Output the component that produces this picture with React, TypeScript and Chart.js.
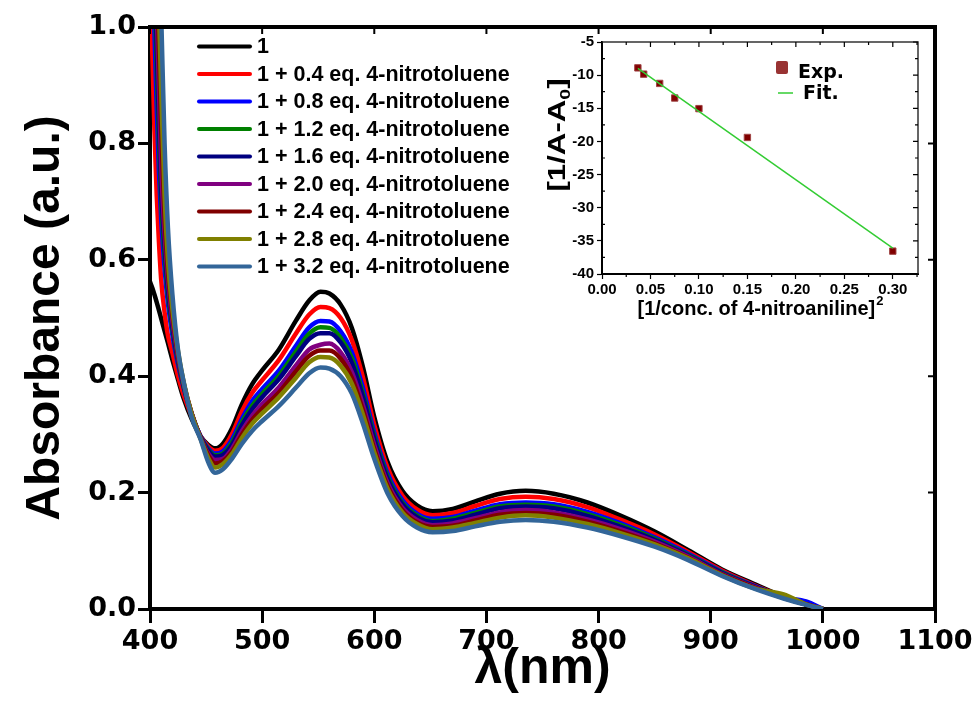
import React, { useEffect, useRef } from "react";
import { Chart, registerables } from "chart.js";

Chart.register(...registerables);

const FONT = '"Liberation Sans", Arial, sans-serif';
const WIDE = '"DejaVu Sans", Verdana, sans-serif';

// Wavelength grid (nm) shared by all absorption spectra
const wavelengths = [400, 402, 404, 406, 408, 410, 413, 416, 420, 425, 430, 437, 445, 452, 458, 465, 473, 482, 491, 500, 515, 530, 542, 552, 560, 570, 580, 590, 600, 612, 625, 638, 652, 670, 690, 712, 735, 760, 790, 820, 850, 880, 910, 940, 965, 985, 1000];

const abs0 = [0.562, 0.552, 0.54, 0.527, 0.513, 0.499, 0.478, 0.457, 0.428, 0.394, 0.362, 0.327, 0.297, 0.282, 0.276, 0.284, 0.31, 0.352, 0.386, 0.41, 0.446, 0.495, 0.53, 0.545, 0.542, 0.523, 0.483, 0.415, 0.33, 0.252, 0.203, 0.178, 0.168, 0.172, 0.185, 0.198, 0.203, 0.198, 0.183, 0.16, 0.133, 0.101, 0.068, 0.042, 0.021, 0.008, 0];
const abs04 = [1.1, 0.96, 0.82, 0.71, 0.63, 0.565, 0.51, 0.47, 0.44, 0.4, 0.368, 0.332, 0.297, 0.279, 0.272, 0.277, 0.3, 0.34, 0.371, 0.393, 0.428, 0.473, 0.506, 0.519, 0.517, 0.5, 0.462, 0.397, 0.316, 0.242, 0.195, 0.171, 0.161, 0.165, 0.177, 0.189, 0.193, 0.189, 0.175, 0.153, 0.128, 0.098, 0.066, 0.04, 0.021, 0.008, 0];
const abs08 = [1.27, 1.13, 0.99, 0.86, 0.75, 0.67, 0.585, 0.525, 0.47, 0.42, 0.38, 0.335, 0.297, 0.276, 0.267, 0.271, 0.291, 0.327, 0.357, 0.378, 0.41, 0.452, 0.484, 0.495, 0.494, 0.477, 0.441, 0.379, 0.303, 0.232, 0.187, 0.164, 0.155, 0.158, 0.169, 0.18, 0.183, 0.18, 0.167, 0.147, 0.123, 0.095, 0.064, 0.039, 0.02, 0.013, 0];
const abs12 = [1.35, 1.21, 1.07, 0.93, 0.8, 0.7, 0.61, 0.54, 0.48, 0.425, 0.382, 0.336, 0.296, 0.274, 0.264, 0.267, 0.286, 0.321, 0.349, 0.37, 0.401, 0.442, 0.473, 0.484, 0.483, 0.466, 0.431, 0.37, 0.297, 0.227, 0.183, 0.161, 0.151, 0.155, 0.165, 0.176, 0.179, 0.176, 0.163, 0.144, 0.121, 0.093, 0.063, 0.038, 0.02, 0.008, 0];
const abs16 = [1.4, 1.25, 1.11, 0.97, 0.83, 0.72, 0.625, 0.55, 0.485, 0.428, 0.384, 0.336, 0.296, 0.272, 0.262, 0.265, 0.282, 0.316, 0.343, 0.364, 0.395, 0.434, 0.464, 0.474, 0.474, 0.458, 0.423, 0.364, 0.292, 0.223, 0.18, 0.158, 0.149, 0.152, 0.162, 0.173, 0.176, 0.173, 0.16, 0.141, 0.119, 0.092, 0.062, 0.038, 0.02, 0.008, 0];
const abs20 = [1.46, 1.31, 1.17, 1.03, 0.89, 0.76, 0.645, 0.565, 0.495, 0.433, 0.386, 0.337, 0.295, 0.267, 0.256, 0.258, 0.275, 0.306, 0.332, 0.352, 0.381, 0.418, 0.446, 0.454, 0.456, 0.441, 0.407, 0.35, 0.282, 0.216, 0.174, 0.153, 0.144, 0.147, 0.156, 0.166, 0.17, 0.166, 0.154, 0.137, 0.116, 0.09, 0.06, 0.037, 0.019, 0.008, 0];
const abs24 = [1.53, 1.39, 1.24, 1.1, 0.96, 0.82, 0.675, 0.58, 0.505, 0.438, 0.388, 0.337, 0.294, 0.264, 0.25, 0.254, 0.27, 0.3, 0.325, 0.344, 0.372, 0.408, 0.435, 0.444, 0.444, 0.43, 0.397, 0.341, 0.275, 0.211, 0.17, 0.149, 0.141, 0.143, 0.152, 0.162, 0.165, 0.162, 0.15, 0.133, 0.113, 0.088, 0.059, 0.036, 0.019, 0.008, 0];
const abs28 = [1.6, 1.46, 1.31, 1.17, 1.03, 0.89, 0.71, 0.6, 0.515, 0.443, 0.39, 0.336, 0.293, 0.259, 0.243, 0.249, 0.266, 0.294, 0.318, 0.336, 0.364, 0.397, 0.424, 0.433, 0.432, 0.418, 0.387, 0.333, 0.269, 0.206, 0.166, 0.146, 0.137, 0.14, 0.148, 0.157, 0.161, 0.157, 0.146, 0.13, 0.111, 0.087, 0.058, 0.035, 0.025, 0.008, 0];
const abs32 = [1.73, 1.59, 1.45, 1.3, 1.16, 1.02, 0.8, 0.655, 0.54, 0.445, 0.39, 0.33, 0.292, 0.252, 0.234, 0.24, 0.258, 0.284, 0.306, 0.323, 0.349, 0.38, 0.405, 0.415, 0.413, 0.4, 0.37, 0.318, 0.258, 0.198, 0.16, 0.14, 0.132, 0.134, 0.142, 0.15, 0.153, 0.15, 0.14, 0.125, 0.107, 0.084, 0.057, 0.034, 0.018, 0.007, 0];

const spectra = [abs0, abs04, abs08, abs12, abs16, abs20, abs24, abs28, abs32];
const spectrumLabels = [
  "1",
  "1 + 0.4 eq. 4-nitrotoluene",
  "1 + 0.8 eq. 4-nitrotoluene",
  "1 + 1.2 eq. 4-nitrotoluene",
  "1 + 1.6 eq. 4-nitrotoluene",
  "1 + 2.0 eq. 4-nitrotoluene",
  "1 + 2.4 eq. 4-nitrotoluene",
  "1 + 2.8 eq. 4-nitrotoluene",
  "1 + 3.2 eq. 4-nitrotoluene",
];
const spectrumColors = ["#000000", "#ff0000", "#0000ff", "#008000", "#000080", "#800080", "#800000", "#808000", "#336699"];

// Benesi–Hildebrand style inset: experimental points and linear fit
const insetX = [0.037, 0.043, 0.0595, 0.075, 0.1, 0.15, 0.3];
const insetY = [-8.9, -9.85, -11.25, -13.45, -15.05, -19.4, -36.55];
const fitX = [0.037, 0.3];
const fitY = [-8.99, -36.1];

const mainDecor = {
  id: "mainDecor",
  afterDraw(chart: any) {
    const { ctx, chartArea: a, scales } = chart;
    ctx.save();
    ctx.strokeStyle = "#000";
    ctx.lineWidth = 4;
    ctx.beginPath();
    ctx.moveTo(a.left - 2, a.top);
    ctx.lineTo(a.right, a.top);
    ctx.lineTo(a.right, a.bottom + 2);
    ctx.stroke();
    ctx.lineWidth = 2;
    ctx.beginPath();
    scales.x.ticks.forEach((t: any) => {
      const px = scales.x.getPixelForValue(t.value);
      ctx.moveTo(px, a.top);
      ctx.lineTo(px, a.top + 7);
    });
    scales.y.ticks.forEach((t: any) => {
      const py = scales.y.getPixelForValue(t.value);
      ctx.moveTo(a.right, py);
      ctx.lineTo(a.right - 7, py);
    });
    ctx.stroke();

    // legend
    const x0 = a.left + 49;
    const y0 = a.top + 19.5;
    ctx.lineCap = "round";
    ctx.textBaseline = "middle";
    ctx.font = `bold 21.5px ${FONT}`;
    chart.data.datasets.forEach((ds: any, i: number) => {
      const y = y0 + i * 27.5;
      ctx.strokeStyle = ds.borderColor;
      ctx.lineWidth = 4;
      ctx.beginPath();
      ctx.moveTo(x0, y);
      ctx.lineTo(x0 + 51, y);
      ctx.stroke();
      ctx.fillStyle = "#000";
      ctx.fillText(ds.label, x0 + 58, y + 1);
    });
    ctx.restore();
  },
};

const insetDecor = {
  id: "insetDecor",
  afterDraw(chart: any) {
    const { ctx, chartArea: a, scales } = chart;
    const xs = scales.x;
    const ys = scales.y;
    ctx.save();
    ctx.strokeStyle = "#333";
    ctx.lineWidth = 1.5;
    ctx.beginPath();
    ctx.moveTo(a.left, a.top);
    ctx.lineTo(a.right, a.top);
    ctx.lineTo(a.right, a.bottom);
    ctx.stroke();

    ctx.strokeStyle = "#000";
    ctx.lineWidth = 1.2;
    ctx.beginPath();
    for (let v = 0; v <= 0.3251; v += 0.025) {
      const px = xs.getPixelForValue(v);
      const major = Math.abs(v / 0.05 - Math.round(v / 0.05)) < 1e-6;
      const len = major ? 5 : 3;
      ctx.moveTo(px, a.top);
      ctx.lineTo(px, a.top + len);
      if (!major) {
        ctx.moveTo(px, a.bottom);
        ctx.lineTo(px, a.bottom + 3);
      }
    }
    for (let v = -40; v <= -5; v += 2.5) {
      const py = ys.getPixelForValue(v);
      const major = v % 5 === 0;
      const len = major ? 5 : 3;
      ctx.moveTo(a.right, py);
      ctx.lineTo(a.right - len, py);
      if (!major) {
        ctx.moveTo(a.left, py);
        ctx.lineTo(a.left + 3, py);
      }
    }
    ctx.stroke();

    // axis titles
    ctx.fillStyle = "#000";
    ctx.textBaseline = "alphabetic";
    const big = `bold 20px ${FONT}`;
    const small = `bold 13px ${FONT}`;
    // x title with superscript
    ctx.font = big;
    const xt = "[1/conc. of 4-nitroaniline]";
    const w1 = ctx.measureText(xt).width;
    ctx.font = small;
    const w2 = ctx.measureText("2").width;
    const cx = (a.left + a.right) / 2;
    const sx = cx - (w1 + w2) / 2;
    ctx.font = big;
    ctx.fillText(xt, sx, a.bottom + 41);
    ctx.font = small;
    ctx.fillText("2", sx + w1 + 1, a.bottom + 31);

    // y title with subscript, rotated and stretched along its length
    ctx.save();
    ctx.translate(a.left - 45, a.top + 93);
    ctx.rotate(-Math.PI / 2);
    ctx.scale(1.3, 1);
    const yBig = `bold 24px ${FONT}`;
    const ySmall = `bold 15px ${FONT}`;
    ctx.font = yBig;
    const ya = "[1/A-A";
    const wa = ctx.measureText(ya).width;
    const wb = ctx.measureText("]").width;
    ctx.font = ySmall;
    const wz = ctx.measureText("0").width;
    const start = -(wa + wz + wb) / 2;
    ctx.font = yBig;
    ctx.fillText(ya, start, 8);
    ctx.font = ySmall;
    ctx.fillText("0", start + wa, 13);
    ctx.font = yBig;
    ctx.fillText("]", start + wa + wz, 8);
    ctx.restore();

    // legend
    const lx = a.left + 180;
    const ly = a.top + 25;
    ctx.fillStyle = "#993333";
    ctx.beginPath();
    ctx.roundRect(lx - 6, ly - 6, 12, 13, 2);
    ctx.fill();
    ctx.fillStyle = "#000";
    ctx.textBaseline = "middle";
    ctx.font = `bold 19px ${WIDE}`;
    ctx.fillText("Exp.", lx + 16, ly + 6);
    ctx.strokeStyle = "#33cc33";
    ctx.lineWidth = 1.5;
    ctx.beginPath();
    ctx.moveTo(lx - 4, ly + 26);
    ctx.lineTo(lx + 11, ly + 26);
    ctx.stroke();
    ctx.fillText("Fit.", lx + 21, ly + 27);
    ctx.restore();
  },
};

export default function App() {
  const mainRef = useRef<HTMLCanvasElement>(null);
  const insetRef = useRef<HTMLCanvasElement>(null);

  useEffect(() => {
    const datasets = spectra.map((vals, i) => ({
      label: spectrumLabels[i],
      data: wavelengths.map((w, j) => ({ x: w, y: vals[j] })),
      borderColor: spectrumColors[i],
      backgroundColor: spectrumColors[i],
      borderWidth: 4.5,
      pointRadius: 0,
      fill: false,
      cubicInterpolationMode: "monotone" as const,
      order: spectra.length - i,
    }));

    const main = new Chart(mainRef.current!, {
      type: "line",
      data: { datasets },
      options: {
        animation: false,
        responsive: false,
        events: [],
        layout: { padding: { top: 27, right: 44, left: 0, bottom: 0 } },
        plugins: { legend: { display: false }, tooltip: { enabled: false } },
        scales: {
          x: {
            type: "linear",
            min: 400,
            max: 1100,
            afterFit: (s: any) => {
              s.height = 95;
            },
            ticks: {
              stepSize: 100,
              color: "#000",
              padding: 3,
              font: { family: WIDE, weight: "bold", size: 27 },
              callback: (v: any) => String(v),
            },
            grid: { drawOnChartArea: false, drawTicks: true, tickLength: 14, tickWidth: 3, tickColor: "#000" },
            border: { display: true, width: 4, color: "#000" },
            title: {
              display: true,
              text: "λ(nm)",
              color: "#000",
              font: { family: FONT, weight: "bold", size: 50, lineHeight: 1 },
              padding: { top: 0, bottom: 10 },
            },
          },
          y: {
            type: "linear",
            min: 0,
            max: 1,
            afterFit: (s: any) => {
              s.width = 150;
            },
            ticks: {
              stepSize: 0.2,
              color: "#000",
              padding: 2,
              font: { family: WIDE, weight: "bold", size: 27 },
              callback: (v: any) => Number(v).toFixed(1),
            },
            grid: { drawOnChartArea: false, drawTicks: true, tickLength: 12, tickWidth: 3, tickColor: "#000" },
            border: { display: true, width: 4, color: "#000" },
            title: {
              display: true,
              text: "Absorbance (a.u.)",
              color: "#000",
              font: { family: FONT, weight: "bold", size: 48, lineHeight: 1 },
              padding: { top: 22, bottom: 0 },
            },
          },
        },
      },
      plugins: [mainDecor],
    });

    const inset = new Chart(insetRef.current!, {
      type: "scatter",
      data: {
        datasets: [
          {
            label: "Fit.",
            data: fitX.map((x, i) => ({ x, y: fitY[i] })),
            showLine: true,
            borderColor: "#33cc33",
            borderWidth: 1.5,
            pointRadius: 0,
          },
          {
            label: "Exp.",
            data: insetX.map((x, i) => ({ x, y: insetY[i] })),
            showLine: false,
            pointStyle: "rect",
            pointRadius: 4.5,
            backgroundColor: "#800000",
            borderColor: "#a04545",
            borderWidth: 1,
          },
        ],
      },
      options: {
        animation: false,
        responsive: false,
        events: [],
        layout: { padding: { top: 10, right: 22, left: 0, bottom: 0 } },
        plugins: { legend: { display: false }, tooltip: { enabled: false } },
        scales: {
          x: {
            type: "linear",
            min: 0,
            max: 0.326,
            afterFit: (s: any) => {
              s.height = 56;
            },
            ticks: {
              stepSize: 0.05,
              includeBounds: false,
              color: "#000",
              padding: 2,
              font: { family: FONT, weight: "bold", size: 15 },
              callback: (v: any) => Number(v).toFixed(2),
            },
            grid: { drawOnChartArea: false, tickLength: 5, tickWidth: 1.2, tickColor: "#000" },
            border: { display: true, width: 2, color: "#000" },
          },
          y: {
            type: "linear",
            min: -40,
            max: -5,
            afterFit: (s: any) => {
              s.width = 82;
            },
            ticks: {
              stepSize: 5,
              color: "#000",
              padding: 3,
              font: { family: FONT, weight: "bold", size: 15 },
            },
            grid: { drawOnChartArea: false, tickLength: 5, tickWidth: 1.2, tickColor: "#000" },
            border: { display: true, width: 2, color: "#000" },
          },
        },
      },
      plugins: [insetDecor],
    });

    return () => {
      main.destroy();
      inset.destroy();
    };
  }, []);

  return (
    <div style={{ position: "fixed", left: 0, top: 0, width: 979, height: 704, background: "#fff" }}>
      <canvas ref={mainRef} width={979} height={704} style={{ position: "absolute", left: 0, top: 0 }} />
      <canvas ref={insetRef} width={420} height={300} style={{ position: "absolute", left: 520, top: 30 }} />
    </div>
  );
}
